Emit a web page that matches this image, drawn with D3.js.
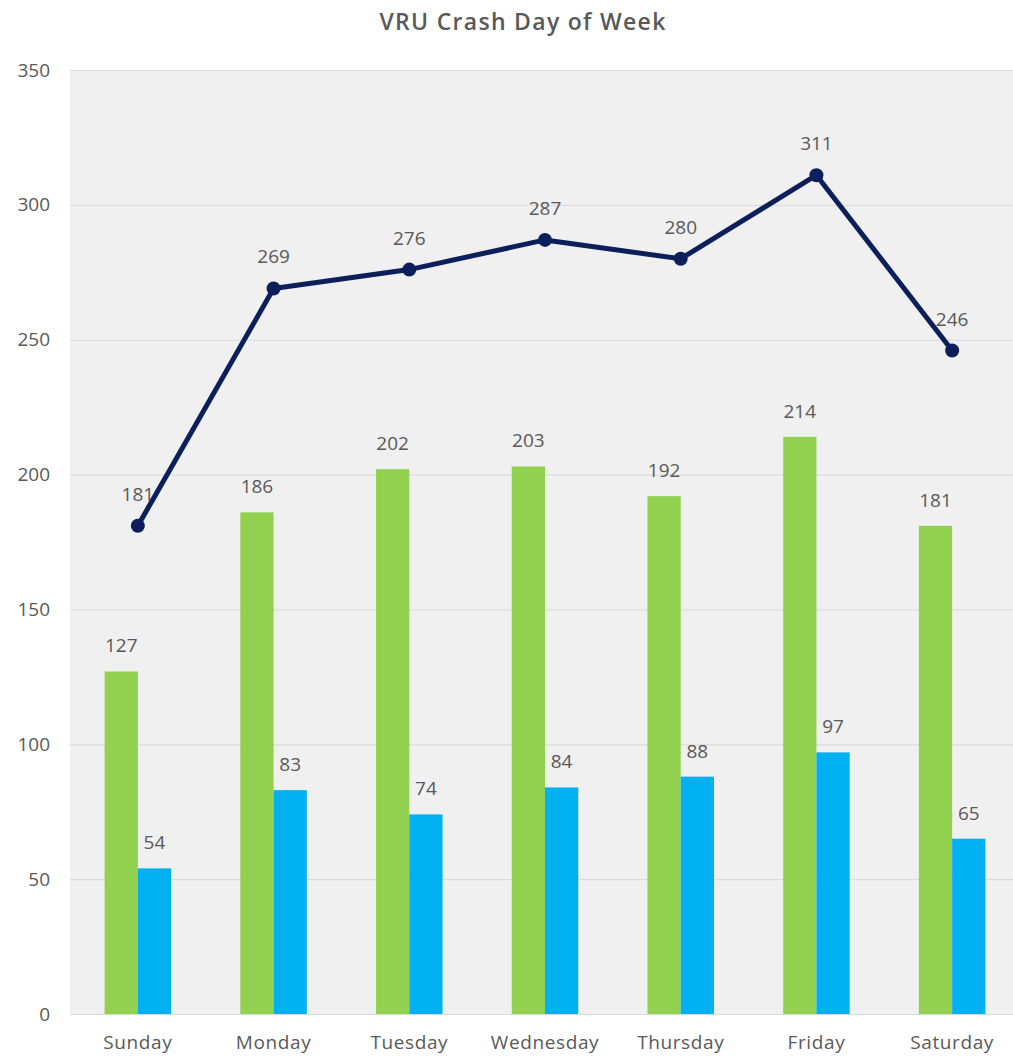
<!DOCTYPE html>
<html>
<head>
<meta charset="utf-8">
<script src="https://cdn.jsdelivr.net/npm/d3@7"></script>
<style>
  body { margin: 0; background: #fff; overflow: hidden; }
  svg { font-family: "Open Sans", sans-serif; }
</style>
</head>
<body>
<div id="chart"></div>
<script>
const days = ["Sunday", "Monday", "Tuesday", "Wednesday", "Thursday", "Friday", "Saturday"];
const greenValues = [127, 186, 202, 203, 192, 214, 181];
const blueValues = [54, 83, 74, 84, 88, 97, 65];
const totalValues = [181, 269, 276, 287, 280, 311, 246];
const yTicks = [0, 50, 100, 150, 200, 250, 300, 350];

const width = 1013, height = 1057;
const margin = { top: 70, bottom: 43, left: 70 };
// the plot runs a little past the right edge of the window
const plotRight = 1020;

const svg = d3.select("#chart").append("svg")
  .attr("width", width)
  .attr("height", height);

const x = d3.scaleBand()
  .domain(days)
  .range([margin.left, plotRight])
  .paddingInner(0.51)
  .paddingOuter(0.255);

const xOuter = d3.scaleBand()
  .domain(days)
  .range([margin.left, plotRight]);

const y = d3.scaleLinear()
  .domain([0, 350])
  .range([height - margin.bottom, margin.top]);

const textColor = "#595959";
const font = "'Open Sans', sans-serif";

// plot background
svg.append("rect")
  .attr("x", margin.left)
  .attr("y", margin.top)
  .attr("width", plotRight - margin.left)
  .attr("height", y(0) - margin.top)
  .attr("fill", "#f0f0f0");

// gridlines
svg.append("g")
  .selectAll("line")
  .data(yTicks)
  .enter()
  .append("line")
  .attr("x1", margin.left)
  .attr("x2", plotRight)
  .attr("y1", (d) => y(d) + 0.5)
  .attr("y2", (d) => y(d) + 0.5)
  .attr("stroke", "#d9d9d9")
  .attr("stroke-width", 1);

// y axis labels
svg.append("g")
  .attr("transform", `translate(${margin.left - 20},0)`)
  .call(d3.axisLeft(y).tickValues(yTicks).tickSize(0).tickPadding(0))
  .call((g) => g.select(".domain").remove())
  .selectAll("text")
  .attr("fill", textColor)
  .style("font-size", "19px")
  .style("font-family", font);

// x axis labels
svg.append("g")
  .attr("transform", `translate(0,${y(0)})`)
  .call(d3.axisBottom(xOuter).tickSize(0).tickPadding(22))
  .call((g) => g.select(".domain").remove())
  .selectAll("text")
  .attr("fill", textColor)
  .style("font-size", "19px")
  .style("letter-spacing", "0.6px")
  .style("font-family", font);

const half = x.bandwidth() / 2;

// green bars
svg.append("g")
  .selectAll("rect")
  .data(greenValues)
  .enter()
  .append("rect")
  .attr("x", (d, i) => x(days[i]))
  .attr("y", (d) => y(d))
  .attr("width", half)
  .attr("height", (d) => y(0) - y(d))
  .attr("fill", "#92d050");

// blue bars
svg.append("g")
  .selectAll("rect")
  .data(blueValues)
  .enter()
  .append("rect")
  .attr("x", (d, i) => x(days[i]) + half)
  .attr("y", (d) => y(d))
  .attr("width", half)
  .attr("height", (d) => y(0) - y(d))
  .attr("fill", "#00b0f0");

// bar labels
const labelStyle = (sel) => sel
  .attr("text-anchor", "middle")
  .attr("fill", textColor)
  .style("font-size", "19px")
  .style("font-family", font);

svg.append("g")
  .selectAll("text")
  .data(greenValues)
  .enter()
  .append("text")
  .attr("x", (d, i) => x(days[i]) + half / 2)
  .attr("y", (d) => y(d) - 19)
  .text((d) => d)
  .call(labelStyle);

svg.append("g")
  .selectAll("text")
  .data(blueValues)
  .enter()
  .append("text")
  .attr("x", (d, i) => x(days[i]) + half * 1.5)
  .attr("y", (d) => y(d) - 19)
  .text((d) => d)
  .call(labelStyle);

// total line
const cx = (i) => xOuter(days[i]) + xOuter.bandwidth() / 2;
const line = d3.line()
  .x((d, i) => cx(i))
  .y((d) => y(d));

svg.append("path")
  .datum(totalValues)
  .attr("d", line)
  .attr("fill", "none")
  .attr("stroke", "#0c1f5b")
  .attr("stroke-width", 5)
  .attr("stroke-linejoin", "round");

svg.append("g")
  .selectAll("circle")
  .data(totalValues)
  .enter()
  .append("circle")
  .attr("cx", (d, i) => cx(i))
  .attr("cy", (d) => y(d))
  .attr("r", 7)
  .attr("fill", "#0c1f5b");

svg.append("g")
  .selectAll("text")
  .data(totalValues)
  .enter()
  .append("text")
  .attr("x", (d, i) => cx(i))
  .attr("y", (d) => y(d) - 25)
  .text((d) => d)
  .call(labelStyle);

// title
svg.append("text")
  .attr("x", 523)
  .attr("y", 30)
  .attr("text-anchor", "middle")
  .attr("fill", textColor)
  .style("font-size", "23px")
  .style("font-weight", "600")
  .style("letter-spacing", "1.3px")
  .style("font-family", font)
  .text("VRU Crash Day of Week");
</script>
</body>
</html>
